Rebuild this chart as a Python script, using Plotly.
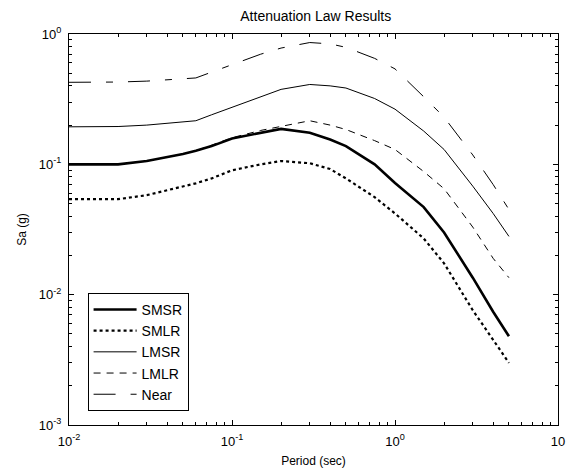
import plotly.graph_objects as go

periods = [0.01, 0.02, 0.03, 0.04, 0.05, 0.06, 0.075, 0.1, 0.15, 0.2, 0.3, 0.4, 0.5, 0.75, 1.0, 1.5, 2.0, 3.0, 4.0, 5.0]
smsr = [0.100, 0.100, 0.106, 0.113, 0.120, 0.127, 0.138, 0.158, 0.175, 0.187, 0.175, 0.155, 0.138, 0.100, 0.072, 0.047, 0.030, 0.0135, 0.0074, 0.0048]
smlr = [0.054, 0.054, 0.058, 0.063, 0.067, 0.0715, 0.078, 0.090, 0.100, 0.106, 0.102, 0.092, 0.078, 0.056, 0.042, 0.027, 0.0174, 0.0076, 0.0045, 0.0030]
lmsr = [0.194, 0.195, 0.200, 0.206, 0.211, 0.216, 0.240, 0.274, 0.330, 0.376, 0.410, 0.400, 0.385, 0.320, 0.265, 0.180, 0.130, 0.068, 0.042, 0.028]
lmlr = [0.100, 0.100, 0.106, 0.113, 0.120, 0.127, 0.140, 0.160, 0.182, 0.196, 0.216, 0.200, 0.185, 0.152, 0.130, 0.088, 0.065, 0.033, 0.019, 0.0135]
near = [0.426, 0.428, 0.435, 0.445, 0.452, 0.460, 0.510, 0.585, 0.700, 0.780, 0.860, 0.840, 0.790, 0.650, 0.540, 0.330, 0.230, 0.118, 0.070, 0.045]

x_tickvals = [0.01, 0.1, 1, 10]
x_ticktext = ["10<sup>-2</sup>", "10<sup>-1</sup>", "10<sup>0</sup>", "10"]
y_tickvals = [0.001, 0.01, 0.1, 1]
y_ticktext = ["10<sup>-3</sup>", "10<sup>-2</sup>", "10<sup>-1</sup>", "10<sup>0</sup>"]
minor_mult = [2, 3, 4, 5, 6, 7, 8, 9]
x_minor = [m * d for d in [0.01, 0.1, 1] for m in minor_mult]
y_minor = [m * d for d in [0.001, 0.01, 0.1] for m in minor_mult]

series = [
    ("SMSR", smsr, dict(color="black", width=2.6, dash="solid")),
    ("SMLR", smlr, dict(color="black", width=2.2, dash="dot")),
    ("LMSR", lmsr, dict(color="black", width=1, dash="solid")),
    ("LMLR", lmlr, dict(color="black", width=1, dash="7px,6px")),
    ("Near", near, dict(color="black", width=1, dash="22px,15px,7px,15px")),
]

fig = go.Figure()
for i, (name, vals, line) in enumerate(series):
    fig.add_trace(go.Scatter(x=periods, y=vals, mode="lines", name=name, line=line,
                             legendgroup=f"g{i}"))

font = "Liberation Sans, Arial, sans-serif"


def axis_common(minor_vals, standoff):
    return dict(
        type="log", showgrid=False, zeroline=False,
        showline=True, linecolor="black", linewidth=1, mirror="allticks",
        ticks="inside", ticklen=5, tickcolor="black", tickwidth=1,
        tickfont=dict(family=font, size=13, color="black"),
        ticklabeloverflow="allow", ticklabelstandoff=standoff,
        minor=dict(ticks="inside", ticklen=3, tickcolor="black", tickwidth=1,
                   showgrid=False, tickmode="array", tickvals=minor_vals),
    )


fig.update_layout(
    width=571, height=472,
    margin=dict(l=69, r=6, t=34, b=47),
    paper_bgcolor="white", plot_bgcolor="white",
    font=dict(family=font, size=12, color="black"),
    title=dict(text="Attenuation Law Results", x=0.553, xanchor="center", y=0.966, yanchor="middle",
               font=dict(family=font, size=14, color="black")),
    xaxis=dict(axis_common(x_minor, 4), range=[-2, 1], tickvals=x_tickvals, ticktext=x_ticktext,
               title=dict(text="Period (sec)", standoff=9, font=dict(family=font, size=12))),
    yaxis=dict(axis_common(y_minor, 4), range=[-3, 0], tickvals=y_tickvals, ticktext=y_ticktext,
               title=dict(text="Sa (g)", standoff=9, font=dict(family=font, size=12))),
    legend=dict(x=0.038, y=0.338, xanchor="left", yanchor="top",
                bgcolor="white", bordercolor="black", borderwidth=1,
                font=dict(family=font, size=14, color="black"),
                itemwidth=43, tracegroupgap=0),
    showlegend=True,
)

fig.write_html("out.html")
